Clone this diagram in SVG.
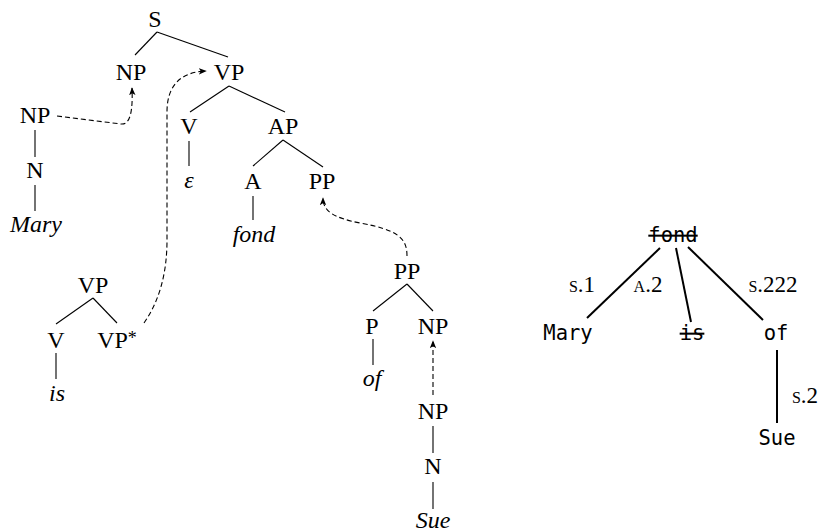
<svg xmlns="http://www.w3.org/2000/svg" width="820" height="532" viewBox="0 0 820 532">
<style>
.t{font-family:"Liberation Serif","Times New Roman",serif;font-size:24px;fill:#000;text-anchor:middle}
.i{font-style:italic}
.m{font-family:"DejaVu Sans Mono","Liberation Mono",monospace;font-size:20.5px;fill:#000;text-anchor:middle}
.l{font-family:"Liberation Serif","Times New Roman",serif;font-size:23px;font-variant:small-caps;fill:#000;text-anchor:middle}
.e{stroke:#000;stroke-width:1.1;fill:none}
.d{stroke:#000;stroke-width:2;fill:none}
.a{stroke:#000;stroke-width:1.1;fill:none;stroke-dasharray:5 3;marker-end:url(#ah)}
</style>
<defs>
<marker id="ah" viewBox="0 0 10 10" refX="9" refY="5" markerWidth="8" markerHeight="8" markerUnits="userSpaceOnUse" orient="auto">
<path d="M0,1 L10,5 L0,9 L2.5,5 Z" fill="#000"/>
</marker>
</defs>
<g id="connectors">
<line class="e" x1="157" y1="32" x2="135" y2="55"/>
<line class="e" x1="157" y1="32" x2="228" y2="57"/>
<line class="e" x1="229" y1="86" x2="190" y2="112"/>
<line class="e" x1="229" y1="86" x2="285" y2="112"/>
<line class="e" x1="189" y1="141" x2="189" y2="166"/>
<line class="e" x1="283" y1="140" x2="253" y2="166"/>
<line class="e" x1="283" y1="140" x2="323" y2="167"/>
<line class="e" x1="253" y1="196" x2="253" y2="220"/>
<line class="e" x1="35" y1="130" x2="35" y2="157"/>
<line class="e" x1="35" y1="185" x2="35" y2="211"/>
<line class="e" x1="93" y1="298" x2="56" y2="324"/>
<line class="e" x1="93" y1="298" x2="117" y2="323"/>
<line class="e" x1="56" y1="353" x2="56" y2="379"/>
<line class="e" x1="407" y1="284" x2="373" y2="311"/>
<line class="e" x1="407" y1="284" x2="433" y2="311"/>
<line class="e" x1="373" y1="339" x2="373" y2="365"/>
<line class="e" x1="433" y1="426" x2="433" y2="453"/>
<line class="e" x1="433" y1="482" x2="433" y2="509"/>
<path class="a" d="M57,116 L121,124 C130,125 133,112 132,88"/>
<path class="a" d="M144,323 C160,300 167,272 167,240 L167,112 C167,86 180,72 206,71"/>
<path class="a" d="M407,256 C407,238 398,230 360,223 C335,218 323,212 323,198"/>
<path class="a" d="M433,395 L433,341"/>
<line class="d" x1="660" y1="248" x2="587" y2="318"/>
<line class="d" x1="676" y1="248" x2="691" y2="322"/>
<line class="d" x1="688" y1="247" x2="763" y2="320"/>
<line class="d" x1="777" y1="350" x2="777" y2="423"/>
</g>
<g id="n-S"><text class="t" x="155" y="27">S</text></g>
<g id="n-NP1"><text class="t" x="131" y="80">NP</text></g>
<g id="n-VP1"><text class="t" x="229" y="80">VP</text></g>
<g id="n-V1"><text class="t" x="189" y="134">V</text></g>
<g id="n-eps"><text class="t i" x="189" y="188">ε</text></g>
<g id="n-AP"><text class="t" x="283" y="134">AP</text></g>
<g id="n-A"><text class="t" x="253" y="189">A</text></g>
<g id="n-PP1"><text class="t" x="322" y="189">PP</text></g>
<g id="n-fond"><text class="t i" x="254" y="242">fond</text></g>
<g id="n-NP2"><text class="t" x="35" y="123">NP</text></g>
<g id="n-N1"><text class="t" x="35" y="178">N</text></g>
<g id="n-Mary"><text class="t i" x="36" y="232">Mary</text></g>
<g id="n-VP2"><text class="t" x="93" y="293">VP</text></g>
<g id="n-V2"><text class="t" x="56" y="348">V</text></g>
<g id="n-VPs"><text class="t" x="117" y="348">VP<tspan font-size="18" dy="-4">*</tspan></text></g>
<g id="n-is"><text class="t i" x="57" y="401">is</text></g>
<g id="n-PP2"><text class="t" x="407" y="279">PP</text></g>
<g id="n-P"><text class="t" x="372" y="334">P</text></g>
<g id="n-NP3"><text class="t" x="433" y="334">NP</text></g>
<g id="n-of"><text class="t i" x="372" y="386">of</text></g>
<g id="n-NP4"><text class="t" x="433" y="419">NP</text></g>
<g id="n-N2"><text class="t" x="433" y="474">N</text></g>
<g id="n-Sue"><text class="t i" x="433" y="528">Sue</text></g>
<g id="d-fond"><text class="m" x="673" y="242" text-decoration="line-through">fond</text></g>
<g id="d-Mary"><text class="m" x="568" y="340">Mary</text></g>
<g id="d-is"><text class="m" x="692" y="340" text-decoration="line-through">is</text></g>
<g id="d-of"><text class="m" x="776" y="340">of</text></g>
<g id="d-Sue"><text class="m" x="777" y="445">Sue</text></g>
<g id="labels">
<text class="l" x="582" y="292">s.1</text>
<text class="l" x="648" y="292">a.2</text>
<text class="l" x="773" y="292">s.222</text>
<text class="l" x="805" y="403">s.2</text>
</g>
</svg>
